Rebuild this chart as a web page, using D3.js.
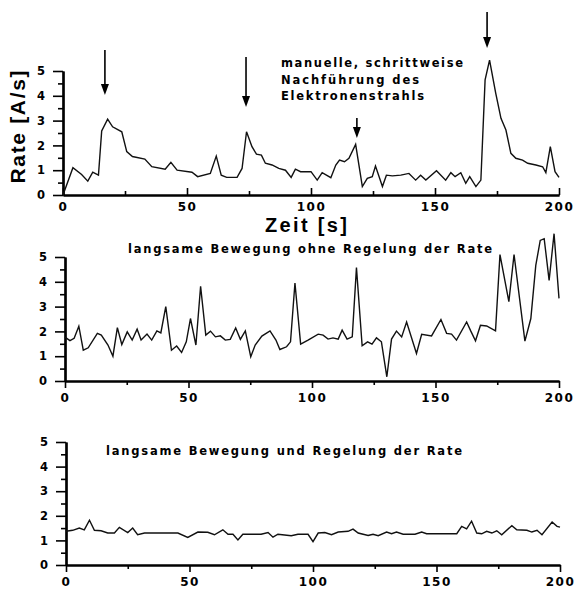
<!DOCTYPE html>
<html>
<head>
<meta charset="utf-8">
<script src="https://cdn.jsdelivr.net/npm/d3@7"></script>
<style>
  body { margin: 0; background: #fff; overflow: hidden; }
</style>
</head>
<body>
<div id="chart"></div>
<script>
// values: [time s, rate A/s]
var manualRate = [[0,0],[4,1.1],[7.5,0.83],[10,0.56],[12,0.92],[14.3,0.8],[15.6,2.58],[18,3.06],[20,2.75],[23.7,2.55],
  [25.7,1.75],[28,1.55],[33,1.45],[35.8,1.14],[41.2,1.04],[43.5,1.32],[46,1.0],[52,0.92],[54.3,0.74],[59.4,0.87],
  [61.8,1.57],[63.8,0.8],[66,0.71],[70.2,0.71],[72.2,1.07],[74,2.55],[76.2,1.95],[78,1.65],[80,1.61],[81.6,1.28],
  [84.3,1.21],[87,1.07],[89.7,1.0],[92,0.71],[93.7,1.04],[95.8,0.94],[100,0.94],[102.5,0.6],[104.5,0.9],[108,0.7],
  [110,1.21],[111.5,1.41],[113.5,1.34],[115.3,1.48],[118,2.04],[120.7,0.34],[122.7,0.67],[124.7,0.74],[126,1.17],
  [128.8,0.34],[130.4,0.8],[132.8,0.77],[136.2,0.8],[139.5,0.87],[142.2,0.6],[144.2,0.8],[146.3,0.6],[150.6,0.98],
  [154.3,0.6],[156.4,0.9],[158.1,0.74],[160.4,0.9],[162.4,0.47],[164,0.74],[166.5,0.34],[168.5,0.6],[170.2,4.64],
  [172,5.44],[174.5,4.1],[176.6,3.09],[178.6,2.62],[180.6,1.68],[182.6,1.48],[185.3,1.41],[187.4,1.28],[190.7,1.21],
  [193.4,1.14],[194.7,0.9],[196.5,1.95],[198.4,0.94],[200,0.71]];

var slowRate = [[0,1.77],[2,1.63],[3.7,1.72],[5.6,2.21],[7.4,1.24],[9.4,1.34],[13.1,1.92],[14.7,1.85],[17.4,1.45],
  [19.4,1.0],[21.2,2.15],[23,1.47],[25.2,1.98],[27.2,1.65],[29.2,2.09],[30.8,1.65],[33.2,1.89],[35.1,1.65],[37.2,2.02],
  [38.8,1.94],[40.8,3.0],[43.1,1.24],[45.2,1.41],[47.2,1.15],[49.1,1.58],[50.8,2.52],[53,1.45],[54.9,3.82],[57,1.85],
  [58.9,2.01],[60.9,1.78],[62.9,1.82],[64.9,1.65],[66.9,1.68],[69.1,2.14],[71,1.68],[73,2.02],[75.2,0.98],[77,1.45],
  [79.7,1.81],[83,2.02],[85.4,1.65],[87,1.27],[89.7,1.38],[91.3,1.58],[93.1,3.95],[95.4,1.49],[98.4,1.65],[102.5,1.89],
  [104.5,1.85],[106.5,1.69],[108.5,1.74],[110.6,1.69],[112.2,2.05],[114.2,1.69],[116.3,1.78],[118,4.57],[120.3,1.42],
  [122.5,1.58],[124.3,1.49],[126.1,1.74],[128.1,1.58],[130.3,0.17],[132.2,1.69],[134.2,2.01],[136.3,1.78],[138.3,2.38],
  [142.3,1.11],[144.4,1.88],[148.4,1.82],[152.2,2.48],[154.5,1.92],[156.5,1.89],[158.5,1.65],[162.6,2.38],[164.3,2.01],
  [166.2,1.62],[168.2,2.25],[170.7,2.22],[174.3,2.02],[176.1,5.1],[179.7,3.2],[181.8,5.1],[186.2,1.61],[188.6,2.52],
  [190.6,4.66],[192.4,5.67],[194,5.74],[196,4.06],[198,5.94],[200,3.33]];

var controlledRate = [[0,1.37],[2.7,1.41],[5.4,1.5],[7.4,1.43],[9.5,1.82],[11.5,1.41],[14.2,1.39],[16.9,1.3],[19.6,1.3],
  [21.6,1.53],[25,1.32],[27,1.5],[29,1.23],[31.8,1.3],[45.3,1.3],[49.3,1.12],[53.4,1.34],[57.4,1.33],[60.1,1.23],
  [63.5,1.43],[65.6,1.25],[67.6,1.25],[69.6,1.02],[71.6,1.25],[79,1.25],[81.8,1.32],[83.8,1.13],[85.8,1.25],[91.2,1.19],
  [93.9,1.25],[98,1.25],[100,0.95],[102.1,1.3],[104.8,1.32],[107.5,1.23],[110.2,1.34],[114.2,1.37],[116.2,1.46],
  [118.3,1.3],[122.3,1.2],[124.3,1.25],[126.4,1.19],[129.8,1.34],[131.8,1.27],[133.8,1.34],[136.5,1.25],[141.3,1.25],
  [144,1.34],[146,1.27],[158.2,1.27],[160.2,1.57],[162.2,1.47],[164.2,1.78],[166.3,1.3],[168.3,1.27],[170.3,1.37],
  [172.4,1.3],[174.4,1.39],[176.4,1.23],[180.5,1.6],[182.5,1.43],[186.6,1.41],[188.6,1.34],[190.7,1.41],[192.7,1.23],
  [196.8,1.75],[198.8,1.57],[200,1.54]];

// arrows in the top panel: time, shaft top, tip (rate units)
var arrows = [[16.9,5.85,4.03],[73.8,5.56,3.55],[118.5,3.1,2.3],[171,7.38,5.93]];

var xMajor = [0,50,100,150,200];
var xMinor = [25,75,125,175];
var yMajor = [0,1,2,3,4,5];
var yMinor = [0.5,1.5,2.5,3.5,4.5];

var annotation = ["manuelle, schrittweise", "Nachführung des", "Elektronenstrahls"];
var midTitle = "langsame Bewegung ohne Regelung der Rate";
var botTitle = "langsame Bewegung und Regelung der Rate";

var W = 575, H = 590;
var labelFont = "'DejaVu Sans', Verdana, sans-serif";
var bigFont = "'Liberation Sans', Arial, sans-serif";

var svg = d3.select("#chart").append("svg")
    .attr("width", W).attr("height", H)
    .style("display", "block")
    .style("background", "#fff");

function panel(data, box) {
  var x = d3.scaleLinear().domain([0, 200]).range([box.left, box.right]);
  var y = d3.scaleLinear().domain([0, 5]).range([box.bottom, box.top]);
  var g = svg.append("g");

  // x minor ticks, then majors with labels
  var xs = box.up ? -1 : 1;
  g.append("g").attr("transform", "translate(0," + box.bottom + ")")
    .call(d3.axisBottom(x).tickValues(xMinor).tickSize(4 * xs).tickSizeOuter(0).tickFormat(""));
  g.append("g").attr("class", "xax").attr("transform", "translate(0," + box.bottom + ")")
    .call(d3.axisBottom(x).tickValues(xMajor).tickSize(7 * xs).tickSizeOuter(0)
      .tickPadding(box.pad).tickFormat(d3.format("d")));

  g.append("g").attr("transform", "translate(" + box.left + ",0)")
    .call(d3.axisLeft(y).tickValues(yMinor).tickSize(5).tickSizeOuter(0).tickFormat(""));
  g.append("g").attr("class", "yax").attr("transform", "translate(" + box.left + ",0)")
    .call(d3.axisLeft(y).tickValues(yMajor).tickSize(10).tickSizeOuter(0)
      .tickPadding(8).tickFormat(d3.format("d")));

  g.selectAll(".domain").attr("stroke", "#000").attr("stroke-width", 2.2);
  g.selectAll(".tick line").attr("stroke", "#000").attr("stroke-width", 1.6);
  g.selectAll(".xax text")
    .style("font-family", labelFont).style("font-weight", "bold")
    .style("font-size", "12px").style("letter-spacing", "1.5px").attr("fill", "#000");
  g.selectAll(".yax text")
    .style("font-family", labelFont).style("font-weight", "bold")
    .style("font-size", "11.5px").attr("fill", "#000");

  g.append("path").datum(data)
    .attr("fill", "none").attr("stroke", "#111").attr("stroke-width", 1.4)
    .attr("d", d3.line().x(function(d) { return x(d[0]); }).y(function(d) { return y(d[1]); }));

  return { x: x, y: y };
}

var topPanel = panel(manualRate, { left: 63, right: 559, bottom: 195, top: 71, up: true, pad: 7.5 });
panel(slowRate, { left: 65, right: 559, bottom: 381, top: 257, up: false, pad: 5.5 });
panel(controlledRate, { left: 66, right: 560, bottom: 565, top: 442, up: false, pad: 5 });

// arrows
arrows.forEach(function(a) {
  var ax = topPanel.x(a[0]), y1 = topPanel.y(a[1]), tip = topPanel.y(a[2]);
  svg.append("line").attr("x1", ax).attr("x2", ax).attr("y1", y1).attr("y2", tip - 8)
    .attr("stroke", "#000").attr("stroke-width", 1.6);
  svg.append("path")
    .attr("d", "M" + (ax - 4) + "," + (tip - 11) + "L" + (ax + 4) + "," + (tip - 11) + "L" + ax + "," + tip + "Z")
    .attr("fill", "#000");
});

// text
function label(str, x, y, size, len, font) {
  return svg.append("text").attr("x", x).attr("y", y).text(str)
    .attr("textLength", len).attr("lengthAdjust", "spacing")
    .style("font-family", font || labelFont).style("font-weight", "bold")
    .style("font-size", size + "px").attr("fill", "#000");
}

var annLen = [182, 138, 143];
annotation.forEach(function(s, i) { label(s, 281, 67 + i * 16.5, 11.5, annLen[i]); });
label(midTitle, 128, 253, 11.5, 364);
label(botTitle, 106, 455, 11.5, 356);
label("Zeit [s]", 265, 232, 20, 82, bigFont);

svg.append("text").text("Rate [A/s]")
  .attr("transform", "translate(25,127) rotate(-90)")
  .attr("text-anchor", "middle")
  .attr("textLength", 113).attr("lengthAdjust", "spacing")
  .style("font-family", bigFont).style("font-weight", "bold")
  .style("font-size", "21px").attr("fill", "#000");
</script>
</body>
</html>
